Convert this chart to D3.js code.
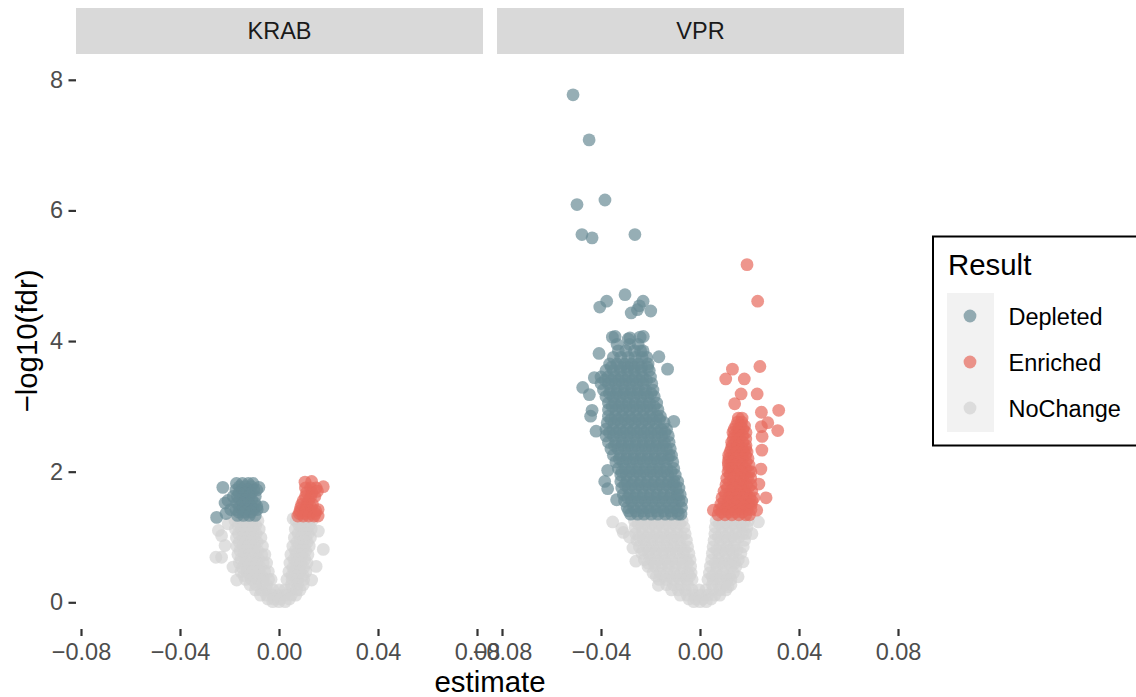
<!DOCTYPE html>
<html><head><meta charset="utf-8">
<script src="https://cdn.jsdelivr.net/npm/d3@7"></script>
<style>html,body{margin:0;padding:0;background:#fff;overflow:hidden}svg{display:block}text{font-family:"Liberation Sans",Arial,sans-serif}</style>
</head><body><div id="c"></div>
<script>
const panels = ["KRAB","VPR"];
const results = ["Depleted","Enriched","NoChange"];
const resultColors = ["#698B95","#E76A5D","#D3D3D3"];
const xTicks = [-0.08,-0.04,0,0.04,0.08];
const yTicks = [0,2,4,6,8];

// rows: [fdr, [estimates]]
const vprDepletedRows = [
[1.35,[-.028,-.0252,-.0226,-.0197,-.017,-.0141,-.0115,-.0088,-.0077]],
[1.4,[-.0288,-.026,-.0232,-.0204,-.0176,-.0148,-.012,-.0092]],
[1.45,[-.0294,-.0268,-.0238,-.0211,-.0183,-.0156,-.0127,-.0102,-.0075]],
[1.55,[-.0305,-.0277,-.025,-.0222,-.0194,-.0166,-.0139,-.0112,-.0085,-.0074]],
[1.6,[-.0292,-.0264,-.0236,-.0208,-.018,-.0152,-.0124,-.0096]],
[1.65,[-.031,-.0284,-.0256,-.0228,-.02,-.0172,-.0145,-.0117,-.0091,-.008]],
[1.75,[-.0316,-.029,-.0262,-.0234,-.0206,-.0178,-.015,-.0122,-.0098,-.0085]],
[1.8,[-.0304,-.0276,-.0248,-.022,-.0192,-.0164,-.0136,-.0108]],
[1.85,[-.032,-.0295,-.0267,-.0239,-.0211,-.0183,-.0155,-.0127,-.0105,-.009]],
[1.95,[-.032,-.0298,-.027,-.0242,-.0214,-.0186,-.0158,-.013,-.01]],
[2.0,[-.0316,-.0284,-.0256,-.0228,-.02,-.0172,-.0144,-.0116]],
[2.05,[-.033,-.0302,-.0274,-.0246,-.0218,-.019,-.0162,-.0134,-.0106]],
[2.15,[-.034,-.0312,-.0284,-.0256,-.0228,-.02,-.0172,-.0144,-.011]],
[2.2,[-.0326,-.0298,-.027,-.0242,-.0214,-.0186,-.0158,-.013]],
[2.25,[-.035,-.032,-.0292,-.0264,-.0236,-.0208,-.018,-.0152,-.0125,-.0115]],
[2.35,[-.036,-.0332,-.0304,-.0276,-.0248,-.022,-.0192,-.0164,-.0136,-.012]],
[2.4,[-.0346,-.0318,-.029,-.0262,-.0234,-.0206,-.0178,-.015]],
[2.45,[-.037,-.034,-.0312,-.0284,-.0256,-.0228,-.02,-.0172,-.0144,-.0125]],
[2.55,[-.038,-.035,-.0322,-.0294,-.0266,-.0238,-.021,-.0182,-.0154,-.0128]],
[2.6,[-.0366,-.0338,-.031,-.0282,-.0254,-.0226,-.0198,-.017,-.0142]],
[2.65,[-.038,-.0352,-.0324,-.0296,-.0268,-.024,-.0212,-.0184,-.0156,-.0135]],
[2.75,[-.0375,-.0347,-.0318,-.029,-.0262,-.0234,-.0206,-.0178,-.0145]],
[2.8,[-.036,-.0332,-.0304,-.0276,-.0248,-.022,-.0192,-.0164]],
[2.85,[-.037,-.0342,-.0314,-.0286,-.0258,-.023,-.0202,-.0174,-.016]],
[2.95,[-.037,-.034,-.0312,-.0284,-.0256,-.0228,-.02,-.017]],
[3.0,[-.0355,-.0326,-.0298,-.027,-.0242,-.0214,-.0186]],
[3.05,[-.037,-.0344,-.0316,-.0288,-.026,-.0232,-.0204,-.0175]],
[3.15,[-.038,-.0352,-.0324,-.0296,-.0268,-.024,-.0212,-.0185]],
[3.2,[-.0366,-.0338,-.031,-.0282,-.0254,-.0226,-.0198]],
[3.25,[-.039,-.036,-.0332,-.0304,-.0276,-.0248,-.022,-.019]],
[3.35,[-.04,-.037,-.0342,-.0314,-.0286,-.0258,-.023,-.0195]],
[3.4,[-.0384,-.0356,-.0328,-.03,-.0272,-.0244,-.0216]],
[3.45,[-.04,-.0372,-.0344,-.0316,-.0288,-.026,-.0232,-.02]],
[3.55,[-.038,-.035,-.0322,-.0294,-.0266,-.0238,-.0205]],
[3.6,[-.0358,-.032,-.0292,-.0264,-.0236,-.0212]],
[3.65,[-.0365,-.0335,-.0305,-.0277,-.0249,-.021]],
[3.75,[-.035,-.032,-.029,-.0262,-.0234,-.0215]],
[3.85,[-.033,-.03,-.0265,-.023]],
[3.95,[-.0335,-.0285,-.025]]
];
const vprDepletedOutliers = [
[-.0513,7.77],[-.0448,7.08],[-.0497,6.09],[-.0384,6.16],[-.0477,5.63],[-.0436,5.58],[-.0263,5.63],
[-.0303,4.71],[-.0377,4.61],[-.0405,4.52],[-.023,4.61],[-.0245,4.54],[-.0253,4.48],[-.0278,4.43],[-.0199,4.46],
[-.0354,4.06],[-.0343,4.07],[-.029,4.03],[-.0283,4.05],[-.0242,4.06],[-.0229,4.07],
[-.0408,3.81],[-.024,3.85],[-.0166,3.76],[-.0131,3.57],[-.0474,3.29],[-.0447,3.18],[-.0427,3.44],
[-.0436,2.94],[-.0442,2.85],[-.042,2.62],[-.0106,2.77],[-.0373,2.02],[-.0385,1.85],[-.0373,1.74],[-.0337,1.57]
];
const vprEnrichedRows = [
[2.82,[.0155,.017]],
[2.76,[.0152,.0168]],
[2.7,[.0145,.0165,.018]],
[2.65,[.0138,.0156,.0174]],
[2.6,[.0133,.0158,.0186]],
[2.55,[.0138,.0152,.0172]],
[2.5,[.0135,.016,.0185]],
[2.45,[.0128,.0146,.0172]],
[2.4,[.013,.0157,.0186]],
[2.35,[.0126,.0143,.0171,.0185]],
[2.3,[.0122,.015,.0176,.019]],
[2.25,[.0116,.0136,.0164,.0184]],
[2.2,[.0117,.0145,.0172,.0194]],
[2.15,[.0114,.0131,.0158,.0186]],
[2.1,[.0115,.0143,.017,.0198]],
[2.05,[.0118,.0129,.0156,.0184]],
[2.0,[.0113,.0141,.0169,.0197,.0206]],
[1.95,[.0122,.015,.0178]],
[1.9,[.0108,.0136,.0164,.0192,.0205]],
[1.85,[.012,.0148,.0176]],
[1.8,[.0105,.0133,.0161,.0189,.0206]],
[1.75,[.0111,.0139,.0167,.0195]],
[1.7,[.0097,.0125,.0153,.0181,.0209]],
[1.65,[.0103,.0131,.0159,.0187]],
[1.6,[.0089,.0117,.0145,.0173,.0201,.0218]],
[1.55,[.0098,.0126,.0154,.0182,.021]],
[1.5,[.0084,.0112,.014,.0168,.0196,.0207]],
[1.46,[.0093,.0121,.0149,.0177]],
[1.42,[.0078,.0106,.0134,.0162,.019,.0206]],
[1.38,[.0088,.0116,.0144,.0172]],
[1.34,[.0073,.0101,.0129,.0157,.0185,.02]]
];
const vprEnrichedOutliers = [
[.019,5.17],[.0233,4.61],[.0242,3.61],[.0131,3.57],[.0104,3.42],[.0179,3.42],[.0166,3.19],[.0231,3.19],
[.014,3.04],[.0318,2.94],[.0248,2.91],[.0274,2.75],[.0248,2.69],[.0314,2.63],[.0251,2.54],[.025,2.33],[.0246,2.04],[.0238,1.81],[.0267,1.6],[.0229,1.41],[.0054,1.41]
];
const vprNoChangeRows = [
[1.25,[-.0265,-.0238,-.021,-.0182,-.0155,-.0127,-.01,-.0072,.0065,.0093,.012,.015,.018,.0195]],
[1.2,[-.025,-.0222,-.0194,-.0166,-.0138,-.011,-.0082,.0078,.0106,.0134,.0162]],
[1.15,[-.0262,-.0234,-.0206,-.0178,-.015,-.0122,-.0094,-.0065,.0062,.009,.0118,.0146,.0174,.019]],
[1.05,[-.026,-.0232,-.0204,-.0176,-.0148,-.012,-.0092,-.006,.006,.0088,.0116,.0144,.0172,.0185]],
[1.0,[-.0246,-.0218,-.019,-.0162,-.0134,-.0106,-.0075,.0074,.0102,.013,.0158]],
[.95,[-.0255,-.0227,-.0199,-.0171,-.0143,-.0115,-.0087,-.0055,.0057,.0085,.0113,.0141,.018]],
[.85,[-.0245,-.0217,-.0189,-.0161,-.0133,-.0105,-.0077,-.005,.0053,.0081,.0109,.0137,.0175]],
[.8,[-.023,-.0202,-.0174,-.0146,-.0118,-.009,-.0062,.0067,.0095,.0123,.015]],
[.75,[-.0235,-.0207,-.0179,-.0151,-.0123,-.0095,-.0067,-.0045,.005,.0078,.0106,.0134,.0165]],
[.65,[-.0225,-.0197,-.0169,-.0141,-.0113,-.0085,-.0057,-.004,.0047,.0075,.0103,.0131,.0155]],
[.6,[-.021,-.0184,-.0156,-.0128,-.01,-.0072,-.005,.0061,.0089,.0117,.014]],
[.55,[-.021,-.0182,-.0154,-.0126,-.0098,-.007,-.0038,.0042,.007,.0098,.0126,.0145]],
[.45,[-.019,-.0162,-.0134,-.0106,-.0078,-.005,-.0036,.0038,.0063,.0091,.0135]],
[.4,[-.0176,-.0148,-.012,-.0092,-.0064,-.0042,.0049,.0077,.0105,.012]],
[.35,[-.0165,-.0137,-.0109,-.0081,-.0053,-.0032,.0032,.0054,.0082,.011,.0125]],
[.27,[-.0135,-.0107,-.0079,-.005,.005,.0075,.01,.0125]],
[.19,[-.0115,-.0088,-.006,-.0032,-.0004,.0024,.0052,.008,.0105]],
[.11,[-.008,-.0052,-.0024,.0004,.0032,.006,.008]],
[.05,[-.0045,-.0017,.0011,.0045]],
[.01,[-.0025,0,.0025]]
];
const vprNoChangeOutliers = [
[-.0353,1.23],[-.0316,1.13],[-.031,1.07],[-.0259,.63],[.0236,1.23],[-.0168,.26],[.0113,.24],[.0154,.39],[.0174,.62],[-.0271,.83],[-.0285,1.0],[.021,1.05]
];
const krabDepletedRows = [
[1.82,[-.0172,-.0148,-.0124,-.0105]],
[1.77,[-.016,-.0136,-.0112]],
[1.72,[-.0174,-.015,-.0126,-.0102,-.009]],
[1.67,[-.0162,-.0138,-.0114]],
[1.62,[-.0168,-.0144,-.012,-.0096]],
[1.57,[-.0158,-.0134,-.011]],
[1.52,[-.017,-.0146,-.0122,-.0098]],
[1.47,[-.016,-.0136,-.0112,-.009]],
[1.42,[-.0174,-.015,-.0126,-.0102,-.0088]],
[1.38,[-.0162,-.0138,-.0114]],
[1.33,[-.0168,-.0144,-.012,-.0096]]
];
const krabDepletedOutliers = [
[-.0227,1.76],[-.0081,1.76],[-.0218,1.52],[-.0252,1.3],[-.0214,1.36],[-.0206,1.56],[-.0065,1.46],[-.0195,1.42],[-.0185,1.62]
];
const krabEnrichedRows = [
[1.75,[.0107,.0128,.015]],
[1.68,[.0112,.0134]],
[1.62,[.0107,.0128,.0145]],
[1.56,[.0098,.012]],
[1.5,[.0092,.0113,.0135]],
[1.45,[.0088,.011,.013]],
[1.4,[.0085,.0106,.0127,.0148]],
[1.36,[.0082,.0104,.0126,.0146]],
[1.32,[.0076,.0098,.012,.0142,.0158]]
];
const krabEnrichedOutliers = [[.0105,1.84],[.0132,1.85],[.0179,1.77],[.0155,1.7],[.0158,1.42]];
const krabNoChangeRows = [
[1.25,[-.0178,-.0155,-.0131,-.0107,-.0085,.0069,.0092,.0115,.0133]],
[1.18,[-.0166,-.0142,-.0118,-.0094,.008,.0103,.0122]],
[1.12,[-.0176,-.0152,-.0128,-.0104,-.008,.0066,.0089,.0112,.013]],
[1.05,[-.0164,-.014,-.0116,-.0092,.0077,.01,.0118]],
[.99,[-.0172,-.0148,-.0124,-.01,-.0073,.0062,.0085,.0108,.0127]],
[.92,[-.016,-.0136,-.0112,-.0088,.0072,.0095,.0114]],
[.86,[-.017,-.0146,-.0122,-.0098,-.0067,.0056,.0079,.0102,.0122]],
[.79,[-.0158,-.0134,-.011,-.0086,.0066,.009,.0108]],
[.73,[-.0166,-.0142,-.0118,-.0094,-.007,-.0057,.0048,.0071,.0094,.0117]],
[.66,[-.0154,-.013,-.0106,-.0082,.006,.0084,.0104]],
[.6,[-.016,-.0136,-.0112,-.0088,-.0064,-.005,.0044,.0067,.009,.0113]],
[.53,[-.0148,-.0124,-.01,-.0076,.0056,.008,.01]],
[.47,[-.0154,-.013,-.0106,-.0082,-.0058,-.0043,.004,.0063,.0086,.0109]],
[.41,[-.0142,-.0118,-.0094,-.007,.0052,.0075,.0097]],
[.35,[-.0135,-.0111,-.0087,-.0063,-.0042,-.0032,.0032,.0053,.0076,.01]],
[.27,[-.0117,-.0093,-.0069,-.005,.005,.0075,.0098]],
[.19,[-.0095,-.0072,-.0048,-.0024,0,.0024,.0048,.0072,.0085]],
[.11,[-.0075,-.005,-.0025,0,.0025,.005,.0068]],
[.05,[-.0045,-.002,.0005,.0042]],
[.01,[-.0025,0,.0025]]
];
const krabNoChangeOutliers = [
[-.0255,.69],[-.0232,.69],[-.0245,1.1],[-.0218,.87],[-.0232,1.02],[-.0171,.34],[.0179,.81],[-.0186,.54],[.0132,.34],[.0159,1.09],[.0057,1.28],[-.0205,1.2],[.015,.55]
];

const flatten = (rows, outliers) =>
  rows.flatMap(([fdr, ests]) => ests.map(e => [e, fdr])).concat(outliers);

const panelData = {
  KRAB: [flatten(krabDepletedRows,krabDepletedOutliers), flatten(krabEnrichedRows,krabEnrichedOutliers), flatten(krabNoChangeRows,krabNoChangeOutliers)],
  VPR:  [flatten(vprDepletedRows,vprDepletedOutliers), flatten(vprEnrichedRows,vprEnrichedOutliers), flatten(vprNoChangeRows,vprNoChangeOutliers)]
};

const W=1136,H=697;
const svg=d3.select("#c").append("svg").attr("width",W).attr("height",H);
const panelLeft={KRAB:76,VPR:497}, panelW=407, panelBottom=629;
const y=d3.scaleLinear().domain([0,8]).range([602.3,79.8]);
const tickFont=23.5, titleFont=29.4, dotR=6.4;

panels.forEach(p=>{
  const L=panelLeft[p];
  const x=d3.scaleLinear().domain([-0.08,0.08]).range([L+5,L+401]);
  const g=svg.append("g");
  g.append("rect").attr("x",L).attr("y",8).attr("width",panelW).attr("height",46).attr("fill","#D9D9D9");
  g.append("text").attr("x",L+panelW/2).attr("y",31).attr("dy",".36em").attr("text-anchor","middle")
    .attr("font-size",tickFont).attr("fill","#1A1A1A").text(p);
  // draw NoChange first, then Depleted and Enriched on top
  [2,0,1].forEach(i=>{
    g.append("g").selectAll("circle").data(panelData[p][i]).join("circle")
      .attr("cx",d=>x(d[0])).attr("cy",d=>y(d[1])).attr("r",dotR)
      .attr("fill",resultColors[i]).attr("fill-opacity",.7);
  });
  const ax=g.append("g").attr("transform",`translate(0,${panelBottom})`)
    .call(d3.axisBottom(x).tickValues(xTicks).tickFormat(d3.format(".2f")).tickSize(7).tickPadding(7));
  ax.select(".domain").remove();
  ax.selectAll("line").attr("stroke","#333").attr("stroke-width",2.2);
  ax.selectAll("text").attr("font-size",tickFont).attr("fill","#4D4D4D").attr("font-family",'"Liberation Sans"');
});

const ay=svg.append("g").attr("transform",`translate(76,0)`)
  .call(d3.axisLeft(y).tickValues(yTicks).tickFormat(d3.format("d")).tickSize(7.5).tickPadding(5.5));
ay.select(".domain").remove();
ay.selectAll("line").attr("stroke","#333").attr("stroke-width",2.2);
ay.selectAll("text").attr("font-size",tickFont).attr("fill","#4D4D4D").attr("font-family",'"Liberation Sans"');

svg.append("text").attr("x",490).attr("y",692).attr("text-anchor","middle").attr("font-size",titleFont).attr("fill","#000").text("estimate");
svg.append("text").attr("transform","translate(37,341) rotate(-90)").attr("text-anchor","middle").attr("font-size",titleFont).attr("fill","#000").text("\u2212log10(fdr)");

// legend
const lg=svg.append("g");
lg.append("rect").attr("x",933).attr("y",236.5).attr("width",220).attr("height",209).attr("fill","#fff").attr("stroke","#000").attr("stroke-width",2);
lg.append("text").attr("x",948).attr("y",275).attr("font-size",titleFont).attr("fill","#000").text("Result");
lg.append("rect").attr("x",947).attr("y",293).attr("width",47).attr("height",139).attr("fill","#F2F2F2");
const keyY=d3.scalePoint().domain(results).range([316,408]);
results.forEach((r,i)=>{
  lg.append("circle").attr("cx",970).attr("cy",keyY(r)).attr("r",dotR).attr("fill",resultColors[i]).attr("fill-opacity",.7);
  lg.append("text").attr("x",1008.5).attr("y",keyY(r)+1).attr("dy",".36em").attr("font-size",tickFont).attr("fill","#000").text(r);
});
</script></body></html>
